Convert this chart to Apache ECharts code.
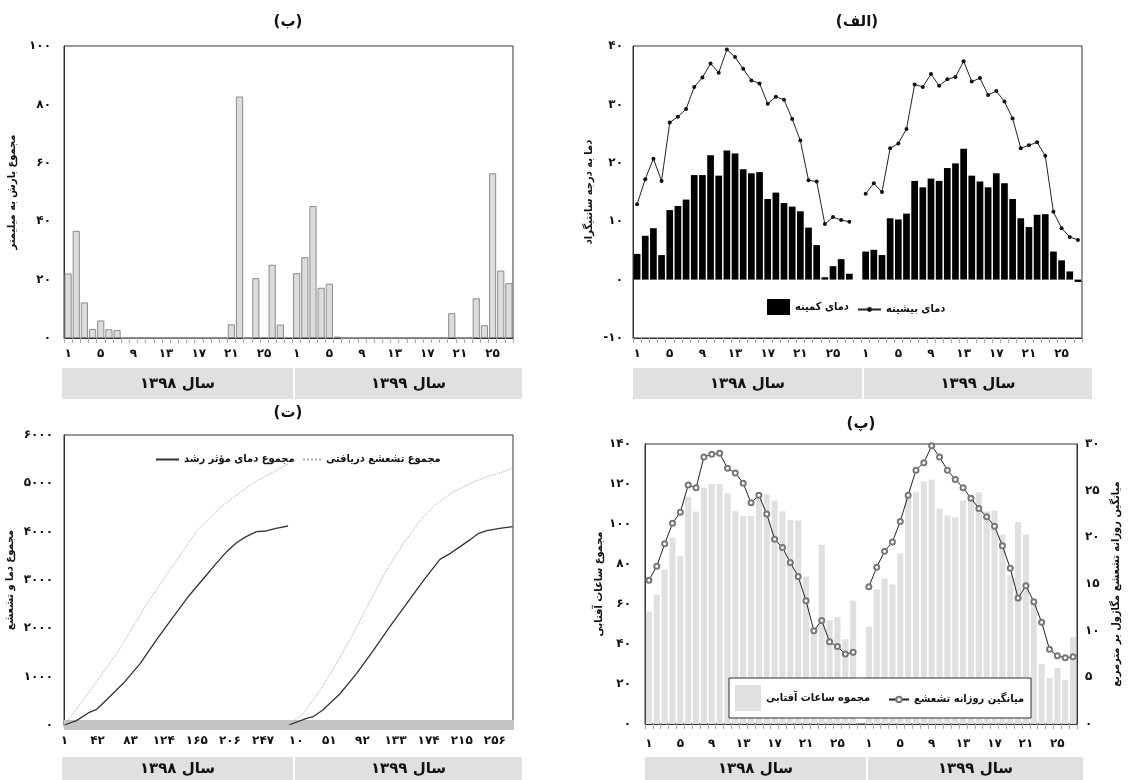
<!DOCTYPE html>
<html>
<head>
<meta charset="utf-8">
<script src="https://cdn.jsdelivr.net/npm/echarts@6/dist/echarts.min.js"></script>
<style>
  html, body { margin: 0; background: #fff; }
  #main { width: 1130px; height: 780px; }
</style>
</head>
<body>
<div id="main"></div>
<script>
// روزهای هر سال (دوره‌های ده‌روزه)
const dayNums = [1, 2, 3, 4, 5, 6, 7, 8, 9, 10, 11, 12, 13, 14, 15, 16, 17, 18, 19, 20, 21, 22, 23, 24, 25, 26, 27];
const yearNames = ['سال ۱۳۹۸', 'سال ۱۳۹۹'];

// (الف) دمای کمینه و بیشینه
const tmin98 = [4.4, 7.5, 8.8, 4.2, 11.9, 12.6, 13.7, 17.9, 17.9, 21.3, 17.8, 22.1, 21.6, 18.9, 18.2, 18.4, 13.8, 14.9, 13.1, 12.5, 11.7, 8.9, 5.9, 0.4, 2.3, 3.5, 1.0];
const tmin99 = [4.8, 5.1, 4.2, 10.5, 10.3, 11.3, 16.9, 15.8, 17.3, 16.9, 19.1, 19.9, 22.4, 17.8, 16.8, 15.8, 18.2, 16.5, 13.8, 10.5, 9.0, 11.1, 11.2, 4.8, 3.3, 1.4, -0.4];
const tmax98 = [12.9, 17.2, 20.7, 16.9, 26.9, 27.9, 29.2, 33.0, 34.6, 37.0, 35.4, 39.4, 38.1, 36.1, 34.1, 33.6, 30.1, 31.3, 30.8, 27.5, 23.8, 17.0, 16.8, 9.5, 10.7, 10.2, 9.9];
const tmax99 = [14.7, 16.5, 15.0, 22.5, 23.3, 25.8, 33.4, 33.0, 35.2, 33.2, 34.3, 34.7, 37.4, 33.9, 34.5, 31.6, 32.3, 30.5, 27.6, 22.5, 23.0, 23.5, 21.2, 11.6, 8.8, 7.3, 6.8];

// (ب) بارش
const rain98 = [22.1, 36.7, 12.2, 3.1, 6.0, 3.0, 2.7, 0, 0, 0, 0, 0, 0, 0, 0, 0, 0, 0, 0, 0, 4.7, 82.7, 0, 20.5, 0.3, 25.1, 4.6];
const rain99 = [22.2, 27.7, 45.2, 17.2, 18.6, 0.5, 0, 0, 0, 0, 0, 0, 0, 0, 0, 0, 0, 0, 0, 8.5, 0, 0, 13.6, 4.4, 56.4, 23.1, 18.8];

// (پ) ساعات آفتابی و تشعشع
const sun98 = [56.2, 64.6, 77.2, 93.1, 84.1, 113.6, 106.2, 118.1, 120.0, 120.1, 115.4, 106.4, 103.9, 104.0, 115.1, 114.9, 111.7, 106.4, 102.0, 101.7, 73.8, 45.0, 89.6, 51.8, 53.5, 42.4, 61.7];
const sun99 = [48.7, 67.3, 72.8, 69.8, 85.2, 113.9, 115.9, 121.3, 122.1, 107.6, 104.2, 103.4, 111.7, 114.1, 115.9, 106.2, 106.7, 94.6, 74.2, 101.0, 94.8, 60.4, 30.0, 23.0, 28.0, 22.0, 43.6];
const rad98 = [15.4, 16.9, 19.3, 21.5, 22.7, 25.6, 25.3, 28.6, 28.9, 29.0, 27.4, 26.9, 25.8, 23.7, 24.5, 22.5, 19.8, 18.9, 17.3, 15.8, 13.2, 10.0, 11.1, 8.8, 8.3, 7.5, 7.7];
const rad99 = [14.7, 16.8, 18.5, 19.5, 21.7, 24.5, 27.2, 28.0, 29.8, 28.6, 27.2, 26.2, 25.3, 24.2, 23.1, 22.2, 21.2, 19.1, 16.7, 13.5, 14.8, 13.1, 10.9, 8.0, 7.3, 7.1, 7.2];

// (ت) مجموع دمای مؤثر و تشعشع (روز سال، مقدار)
const yearLen98 = 278, yearLen99 = 278;
const gddDays98 = [1, 16, 31, 41, 53, 74, 95, 115, 136, 156, 177, 189, 202, 214, 226, 239, 251, 263, 278];
const gdd98 = [0, 90, 255, 324, 517, 862, 1276, 1759, 2241, 2690, 3103, 3345, 3586, 3772, 3897, 4000, 4014, 4069, 4117];
const gddDays99 = [1, 23, 31, 43, 64, 85, 106, 126, 147, 168, 188, 201, 213, 226, 236, 246, 262, 278];
const gdd99 = [0, 138, 172, 310, 641, 1069, 1552, 2034, 2517, 2999, 3428, 3552, 3690, 3841, 3966, 4021, 4069, 4103];
const radDays98 = [1, 24, 45, 66, 86, 103, 123, 144, 164, 194, 234, 278];
const radSum98 = [0, 500, 1000, 1483, 2034, 2500, 3000, 3500, 4000, 4500, 5000, 5400];
const radDays99 = [1, 19, 40, 60, 81, 102, 122, 143, 164, 184, 205, 226, 246, 267, 278];
const radSum99 = [0, 241, 724, 1276, 1897, 2586, 3207, 3759, 4241, 4586, 4828, 5000, 5138, 5241, 5310];

const FONT = 'DejaVu Sans';
const FONT_C = '"DejaVu Sans Condensed", "DejaVu Sans"';
const fa = v => String(v).replace(/\d/g, d => '۰۱۲۳۴۵۶۷۸۹'[d]);
const join = (a, b) => a.concat([null], b);
const dayCats = dayNums.map(fa).concat([''], dayNums.map(fa));
const cumCats = [];
for (let i = 0; i < yearLen98; i++) cumCats.push(fa(i + 1));
for (let i = 0; i < yearLen99; i++) cumCats.push(fa(i + 1));
const pairs = (days, vals, off) => days.map((d, i) => [off + d - 1, vals[i]]);

const txt = (size, family) => ({ color: '#111', fontFamily: family || FONT, fontWeight: 'bold', fontSize: size });

const gridBase = { show: true, borderColor: '#333', borderWidth: 1, outerBoundsMode: 'none' };
const grids = [
  { left: 633, top: 46, width: 449, height: 292 },
  { left: 64, top: 46, width: 449, height: 292 },
  { left: 645, top: 444, width: 432, height: 280 },
  { left: 64, top: 435, width: 449, height: 290 }
].map(g => Object.assign({}, gridBase, g));

function catAxis(gi, data, labelInterval, margin, tickColor) {
  return {
    gridIndex: gi, type: 'category', data: data, boundaryGap: true,
    axisLine: { onZero: false, lineStyle: { color: '#333' } },
    axisTick: { show: true, interval: 0, length: 5, lineStyle: { color: tickColor || '#aaa' } },
    axisLabel: Object.assign({ interval: labelInterval, margin: margin }, txt(12)),
    splitLine: { show: false }
  };
}
function valAxis(gi, min, max, step, name, gap, margin, pos) {
  return {
    gridIndex: gi, type: 'value', min: min, max: max, interval: step, position: pos || 'left',
    name: name, nameLocation: 'middle', nameGap: gap, nameTextStyle: txt(11, FONT_C),
    axisLine: { show: true, onZero: false, lineStyle: { color: '#333' } },
    axisTick: { show: false }, splitLine: { show: false },
    axisLabel: Object.assign({ formatter: v => fa(v), margin: margin }, txt(12))
  };
}

const xAxes = [
  catAxis(0, dayCats, 3, 10),
  catAxis(1, dayCats, 3, 10),
  catAxis(2, dayCats, 3, 14),
  catAxis(3, cumCats, 40, 10, '#c4c4c4'),
  {
    gridIndex: 3, type: 'category', data: cumCats, position: 'top', offset: -290,
    axisLine: { show: false }, axisLabel: { show: false }, splitLine: { show: false },
    axisTick: { show: true, interval: 0, length: 5, lineStyle: { color: '#c4c4c4' } }
  }
];
const yAxes = [
  valAxis(0, -10, 40, 10, 'دما به درجه سانتیگراد', 38, 10),
  valAxis(1, 0, 100, 20, 'مجموع بارش به میلیمتر', 46, 13),
  valAxis(2, 0, 140, 20, 'مجموع ساعات آفتابی', 40, 14),
  valAxis(2, 0, 30, 5, 'میانگین روزانه تشعشع مگاژول بر مترمربع', 34, 8, 'right'),
  valAxis(3, 0, 6000, 1000, 'مجموع دما و تشعشع', 48, 11)
];

const series = [
  { name: 'دمای کمینه', type: 'bar', xAxisIndex: 0, yAxisIndex: 0, data: join(tmin98, tmin99),
    barCategoryGap: '18%', itemStyle: { color: '#000' } },
  { name: 'دمای بیشینه', type: 'line', xAxisIndex: 0, yAxisIndex: 0, data: join(tmax98, tmax99),
    symbol: 'circle', symbolSize: 4, lineStyle: { color: '#222', width: 1 }, itemStyle: { color: '#111' } },
  { name: 'بارش', type: 'bar', xAxisIndex: 1, yAxisIndex: 1, data: join(rain98, rain99),
    barCategoryGap: '12%', itemStyle: { color: '#dcdcdc', borderColor: '#8c8c8c', borderWidth: 1 } },
  { name: 'مجموه ساعات آفتابی', type: 'bar', xAxisIndex: 2, yAxisIndex: 2, data: join(sun98, sun99),
    barCategoryGap: '22%', itemStyle: { color: '#e0e0e0' } },
  { name: 'میانگین روزانه تشعشع', type: 'line', xAxisIndex: 2, yAxisIndex: 3, data: join(rad98, rad99),
    symbol: 'emptyCircle', symbolSize: 5, lineStyle: { color: '#222', width: 1 }, itemStyle: { color: '#777' }, z: 3 },
  { name: 'مجموع دمای مؤثر رشد', type: 'line', xAxisIndex: 3, yAxisIndex: 4, data: pairs(gddDays98, gdd98, 0),
    symbol: 'none', lineStyle: { color: '#333', width: 1.3 }, itemStyle: { color: '#333' } },
  { name: 'مجموع دمای مؤثر رشد', type: 'line', xAxisIndex: 3, yAxisIndex: 4, data: pairs(gddDays99, gdd99, yearLen98),
    symbol: 'none', lineStyle: { color: '#333', width: 1.3 }, itemStyle: { color: '#333' } },
  { name: 'مجموع تشعشع دریافتی', type: 'line', xAxisIndex: 3, yAxisIndex: 4, data: pairs(radDays98, radSum98, 0),
    symbol: 'none', lineStyle: { color: '#aaa', width: 1, type: 'dotted' }, itemStyle: { color: '#aaa' } },
  { name: 'مجموع تشعشع دریافتی', type: 'line', xAxisIndex: 3, yAxisIndex: 4, data: pairs(radDays99, radSum99, yearLen98),
    symbol: 'none', lineStyle: { color: '#aaa', width: 1, type: 'dotted' }, itemStyle: { color: '#aaa' } }
];

function leg(item, left, top, w, h, size) {
  return { data: [item], left: left, top: top, itemWidth: w, itemHeight: h, padding: 0,
    selectedMode: false, textStyle: txt(size || 11, FONT_C), itemGap: 0 };
}
const noMark = { opacity: 0 };
const legends = [
  leg({ name: 'دمای کمینه', icon: 'rect' }, 767, 299, 23, 16),
  leg({ name: 'دمای بیشینه' }, 857, 304, 23, 6),
  leg({ name: 'مجموه ساعات آفتابی', icon: 'rect' }, 735, 685, 26, 26),
  leg({ name: 'میانگین روزانه تشعشع' }, 888, 694, 20, 7),
  leg({ name: 'مجموع دمای مؤثر رشد', itemStyle: noMark }, 155, 454, 23, 2),
  leg({ name: 'مجموع تشعشع دریافتی', itemStyle: noMark }, 302, 454, 18, 2)
];

const graphics = [];
function yearBox(x, y, w, h, label) {
  graphics.push({ type: 'rect', shape: { x: x, y: y, width: w, height: h }, style: { fill: '#e0e0e0' }, silent: true });
  graphics.push({ type: 'text', x: x + w / 2, y: y + h / 2 + 1, silent: true,
    style: { text: label, align: 'center', verticalAlign: 'middle', font: 'bold 15px "' + FONT + '"', fill: '#111' } });
}
yearBox(633, 368, 229, 31, yearNames[0]);
yearBox(864, 368, 228, 31, yearNames[1]);
yearBox(62, 368, 231, 31, yearNames[0]);
yearBox(295, 368, 227, 31, yearNames[1]);
yearBox(62, 757, 231, 23, yearNames[0]);
yearBox(295, 757, 227, 23, yearNames[1]);
yearBox(645, 757, 221, 23, yearNames[0]);
yearBox(868, 757, 215, 23, yearNames[1]);

function title(x, y, label) {
  graphics.push({ type: 'text', x: x, y: y, silent: true,
    style: { text: label, align: 'center', verticalAlign: 'middle', font: 'bold 15px "' + FONT + '"', fill: '#111' } });
}
title(857, 22, '(الف)');
title(288, 22, '(ب)');
title(861, 424, '(پ)');
title(288, 413, '(ت)');

// کادر راهنمای نمودار (پ)
graphics.push({ type: 'rect', z: 3, shape: { x: 729, y: 678, width: 302, height: 40 },
  style: { fill: '#fff', stroke: '#333', lineWidth: 1 }, silent: true });

const chart = echarts.init(document.getElementById('main'), null, { renderer: 'canvas' });
chart.setOption({
  animation: false,
  backgroundColor: '#fff',
  grid: grids,
  xAxis: xAxes,
  yAxis: yAxes,
  legend: legends,
  series: series,
  graphic: { elements: graphics }
});
</script>
</body>
</html>
